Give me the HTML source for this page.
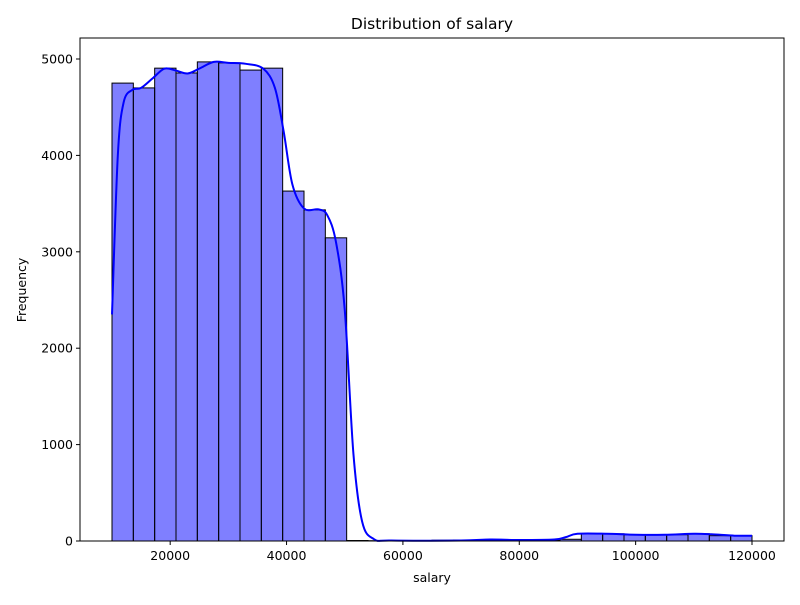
<!DOCTYPE html>
<html><head><meta charset="utf-8"><style>
body{margin:0;background:#fff;font-family:"Liberation Sans","DejaVu Sans",sans-serif}
</style></head><body>
<svg width="800" height="600" xmlns="http://www.w3.org/2000/svg" font-family="DejaVu Sans, Liberation Sans, sans-serif">
<rect width="800" height="600" fill="#fff"/>
<g id="bars"></g>
<path id="kde" fill="none" stroke="#0000ff" stroke-width="2"/>
<g id="axes"></g>
<text x="432" y="29" font-size="15.5" text-anchor="middle">Distribution of salary</text>
<text x="432" y="582" font-size="12.5" text-anchor="middle">salary</text>
<text x="26" y="290" font-size="12.5" text-anchor="middle" transform="rotate(-90 26 290)">Frequency</text>
</svg>
<script>
const binMin = 10000, binMax = 120000;
const binCounts = [4750,4700,4905,4855,4970,4960,4885,4905,3630,3435,3145,5,3,3,3,8,10,6,6,5,6,18,75,75,65,65,65,75,55,55];
const kdeX = [10000,11000,12000,13500,15000,17000,19000,21000,23000,25000,27500,30000,33000,36000,38000,39500,41000,43000,45500,47000,48500,50000,51500,53000,55000,58000,70000,75000,80000,86000,88000,90000,95000,100000,105000,110000,113000,117000,120000];
const kdeY = [2350,4000,4550,4680,4700,4800,4900,4880,4850,4900,4970,4960,4950,4900,4700,4250,3700,3450,3440,3380,3100,2400,900,200,20,5,5,15,10,15,40,75,75,65,65,75,70,55,55];
const xTicks = [20000,40000,60000,80000,100000,120000];
const yTicks = [0,1000,2000,3000,4000,5000];
const NS = "http://www.w3.org/2000/svg";
const L=80,R=784,T=38,B=541;
const xMinD=4500,xMaxD=125500;
const x=v=>L+(v-xMinD)/(xMaxD-xMinD)*(R-L);
const y=v=>B-(v/5000)*(B-59);
const bars=document.getElementById('bars');
const bw=(binMax-binMin)/binCounts.length;
binCounts.forEach((c,i)=>{
  const r=document.createElementNS(NS,'rect');
  const x0=x(binMin+i*bw),x1=x(binMin+(i+1)*bw);
  r.setAttribute('x',x0);r.setAttribute('y',y(c));
  r.setAttribute('width',x1-x0);r.setAttribute('height',B-y(c));
  r.setAttribute('fill','rgba(0,0,255,0.5)');r.setAttribute('stroke','#000');r.setAttribute('stroke-width','1');
  
  
  bars.appendChild(r);
});
const pts=kdeX.map((v,i)=>[x(v),y(kdeY[i])]);
let d='M'+pts[0][0]+','+pts[0][1];
for(let i=0;i<pts.length-1;i++){
  const p0=pts[Math.max(0,i-1)],p1=pts[i],p2=pts[i+1],p3=pts[Math.min(pts.length-1,i+2)];
  const c1=[p1[0]+(p2[0]-p0[0])/6,p1[1]+(p2[1]-p0[1])/6];
  const c2=[p2[0]-(p3[0]-p1[0])/6,p2[1]-(p3[1]-p1[1])/6];
  d+=` C${c1[0]},${c1[1]} ${c2[0]},${c2[1]} ${p2[0]},${p2[1]}`;
}
document.getElementById('kde').setAttribute('d',d);
const ax=document.getElementById('axes');
const fr=document.createElementNS(NS,'rect');
fr.setAttribute('x',L);fr.setAttribute('y',T);fr.setAttribute('width',R-L);fr.setAttribute('height',B-T);
fr.setAttribute('fill','none');fr.setAttribute('stroke','#000');fr.setAttribute('stroke-width','1');


ax.appendChild(fr);
xTicks.forEach(v=>{
  const l=document.createElementNS(NS,'line');
  l.setAttribute('x1',x(v));l.setAttribute('x2',x(v));l.setAttribute('y1',B);l.setAttribute('y2',B+4);l.setAttribute('stroke','#000');
  
  
  ax.appendChild(l);
  const t=document.createElementNS(NS,'text');
  t.setAttribute('x',x(v));t.setAttribute('y',B+19);t.setAttribute('font-size','12.5');t.setAttribute('text-anchor','middle');
  t.textContent=v;
  
  
  ax.appendChild(t);
});
yTicks.forEach(v=>{
  const l=document.createElementNS(NS,'line');
  l.setAttribute('x1',L-4);l.setAttribute('x2',L);l.setAttribute('y1',y(v));l.setAttribute('y2',y(v));l.setAttribute('stroke','#000');
  
  
  ax.appendChild(l);
  const t=document.createElementNS(NS,'text');
  t.setAttribute('x',L-7);t.setAttribute('y',y(v)+4.5);t.setAttribute('font-size','12.5');t.setAttribute('text-anchor','end');
  t.textContent=v;
  
  
  ax.appendChild(t);
});
</script>
</body></html>
